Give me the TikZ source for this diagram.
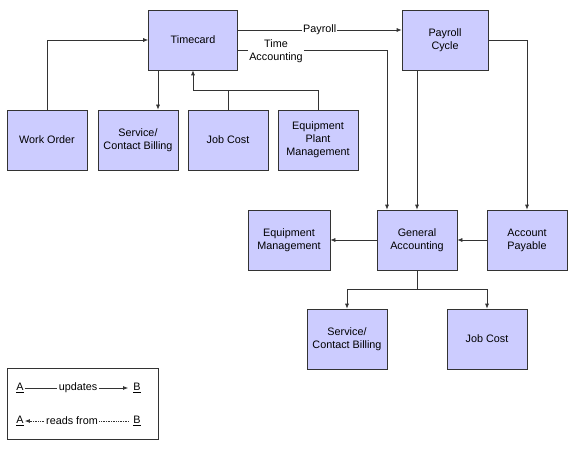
\documentclass[tikz,border=0pt]{standalone}
\usepackage{fontspec}
\setmainfont{Liberation Sans}
\usetikzlibrary{arrows.meta}

\definecolor{boxfill}{RGB}{204,204,255}
\definecolor{linegray}{RGB}{51,51,51}

\begin{document}
\begin{tikzpicture}[x=1pt, y=-1pt, line width=0.7pt,
    box/.style={draw=linegray, fill=boxfill, minimum width=80pt, minimum height=60pt,
      align=center, inner sep=1pt, font=\fontsize{10.8}{13}\selectfont},
    txt/.style={inner sep=1pt, align=center, font=\fontsize{10.8}{13}\selectfont},
    conn/.style={draw=linegray, -{Latex[length=5pt,width=4pt]}},
    back/.style={draw=linegray, {Latex[length=5pt,width=4pt]}-},
    plain/.style={draw=linegray}]
  \useasboundingbox (0,0) rectangle (572,449);

  % top row
  \node[box, minimum width=89pt] (timecard) at (193,40) {Timecard};
  \node[box, minimum width=86pt] (payroll)  at (445,40) {Payroll\\Cycle};
  \node[box] (workorder)  at (47,140)  {Work Order};
  \node[box] (service1)   at (138,140) {Service/\\Contact Billing};
  \node[box] (jobcost1)   at (228,140) {Job Cost};
  \node[box] (equipplant) at (318,140) {Equipment\\Plant\\Management};

  % middle row
  \node[box, minimum width=82pt] (equipmgmt) at (289,240) {Equipment\\Management};
  \node[box] (genacc) at (417,240) {General\\Accounting};
  \node[box] (accpay) at (527,240) {Account\\Payable};

  % bottom row
  \node[box] (service2) at (347,339) {Service/\\Contact Billing};
  \node[box] (jobcost2) at (487,339) {Job Cost};

  \coordinate (s1) at ([xshift=20pt]service1.north);
  \coordinate (jc) at (193,90);
  \coordinate (ta) at ([xshift=-30pt]genacc.north);
  \coordinate (ga) at (417,289);

  % connectors
  \draw[conn] (workorder.north) |- (timecard.west);
  \draw[conn] (timecard.south -| s1) -- (s1);
  \draw[plain] (jobcost1.north) |- (jc);
  \draw[plain] (equipplant.north) |- (jc);
  \draw[conn] (jc) -- (timecard.south);
  \draw[conn] ([yshift=10pt]timecard.east) -- ([yshift=10pt]payroll.west)
    node[txt, fill=white, pos=0.5] (paylbl) {Payroll};
  \draw[conn] ([yshift=-10pt]timecard.east) -| (ta);
  \node[txt, fill=white] (talbl) at (276,51) {Time\\Accounting};
  \draw[conn] (payroll.south -| genacc.north) -- (genacc.north);
  \draw[conn] (payroll.east) -| (accpay.north);
  \draw[conn] (accpay.west) -- (genacc.east);
  \draw[conn] (genacc.west) -- (equipmgmt.east);
  \draw[plain] (genacc.south) -- (ga);
  \draw[conn] (ga) -| (service2.north);
  \draw[conn] (ga) -| (jobcost2.north);

  % legend
  \node[draw=linegray, fill=white, minimum width=151pt, minimum height=71pt, inner sep=0pt]
    (legend) at (82.5,403.5) {};
  \node[txt] (la1) at (20,388) {\underline{A}};
  \node[txt] (lb1) at (137,388) {\underline{B}};
  \node[txt] (upd) at (78,388) {updates};
  \draw[plain] (la1) -- (upd);
  \draw[conn] (upd) -- ([xshift=-4pt]lb1.west);
  \node[txt] (la2) at (20,421) {\underline{A}};
  \node[txt] (lb2) at (137,421) {\underline{B}};
  \node[txt] (rdf) at (72,421) {reads from};
  \draw[back, densely dotted] (la2) -- (rdf);
  \draw[plain, densely dotted] (rdf) -- ([xshift=-3pt]lb2.west);
\end{tikzpicture}
\end{document}
